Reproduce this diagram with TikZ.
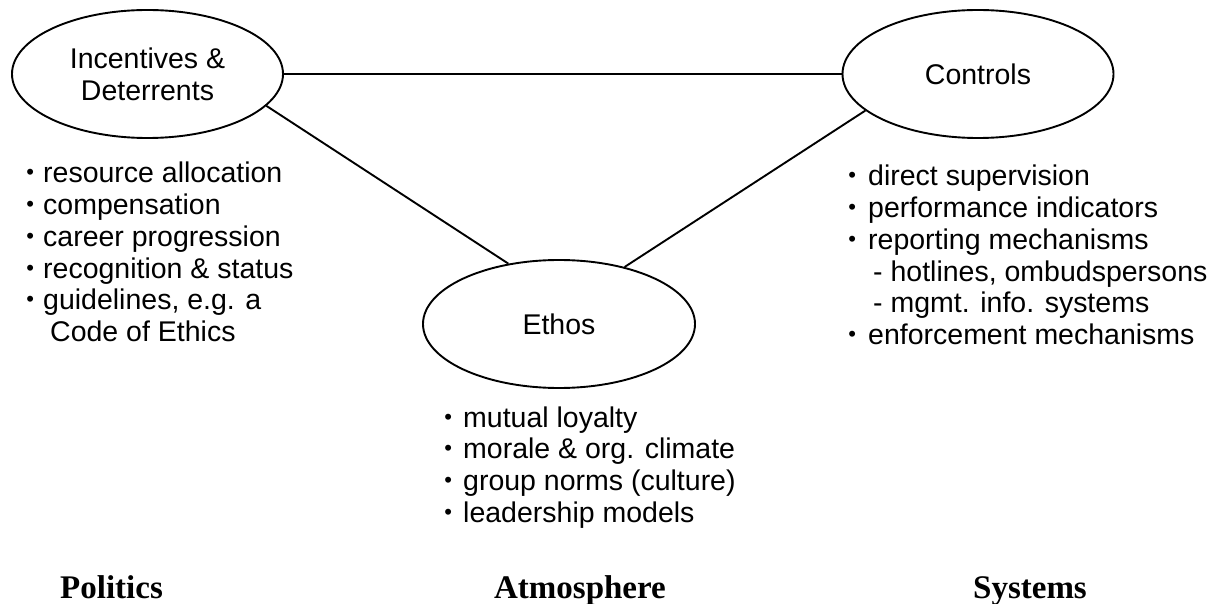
\documentclass[tikz,border=0pt]{standalone}
\usepackage{fontspec}
\setmainfont{Liberation Sans}
\newfontfamily\serifbold{Liberation Serif}
\usetikzlibrary{shapes.geometric}

\newlength\bw
\newcommand\bul{\makebox[\bw]{\fontsize{22}{22}\selectfont\raisebox{3pt}{•}}}
\newcommand\ind{\hspace*{\bw}}

\begin{document}
\begin{tikzpicture}[x=1pt,y=-1pt,
  oval/.style={draw, line width=1.9pt, ellipse, minimum width=271pt, minimum height=128pt,
    inner sep=0pt, align=center, font=\fontsize{28.5}{31.7}\selectfont},
  link/.style={line width=1.9pt},
  listtext/.style={anchor=base west, inner sep=0pt, font=\fontsize{28.5}{31.7}\selectfont},
  title/.style={anchor=base, inner sep=0pt, font=\serifbold\bfseries\fontsize{33}{36}\selectfont}]
\useasboundingbox (0,0) rectangle (1216,604);

\node[oval] (inc) at (147.5,74) {Incentives \&\\Deterrents};
\node[oval] (ctl) at (978,74) {Controls};
\node[oval, minimum width=272pt] (eth) at (559,324) {Ethos};

\draw[link] (inc.east) -- (ctl.west);
\draw[link] (inc.-15.8) -- (eth.130.4);
\draw[link] (ctl.-162.8) -- (eth.41);

\node[listtext] (incl) at (17,183) {\setlength\bw{26pt}\begin{tabular}[t]{@{}l@{}}
\bul resource allocation\\
\bul compensation\\
\bul career progression\\
\bul recognition \& status\\
\bul guidelines, e.g. a\\
\ind\hspace*{7pt}Code of Ethics
\end{tabular}};

\node[listtext] (ctll) at (836,186) {\setlength\bw{32pt}\begin{tabular}[t]{@{}l@{}}
\bul direct supervision\\
\bul performance indicators\\
\bul reporting mechanisms\\
\ind\hspace*{5pt}- hotlines, ombudspersons\\
\ind\hspace*{5pt}- mgmt. info. systems\\
\bul enforcement mechanisms
\end{tabular}};

\node[listtext] (ethl) at (433,427) {\setlength\bw{30pt}\begin{tabular}[t]{@{}l@{}}
\bul mutual loyalty\\
\bul morale \& org. climate\\
\bul group norms (culture)\\
\bul leadership models
\end{tabular}};

\node[title] (pol) at (111.5,598) {Politics};
\node[title] (atm) at (580,598) {Atmosphere};
\node[title] (sys) at (1030,598) {Systems};
\end{tikzpicture}
\end{document}
